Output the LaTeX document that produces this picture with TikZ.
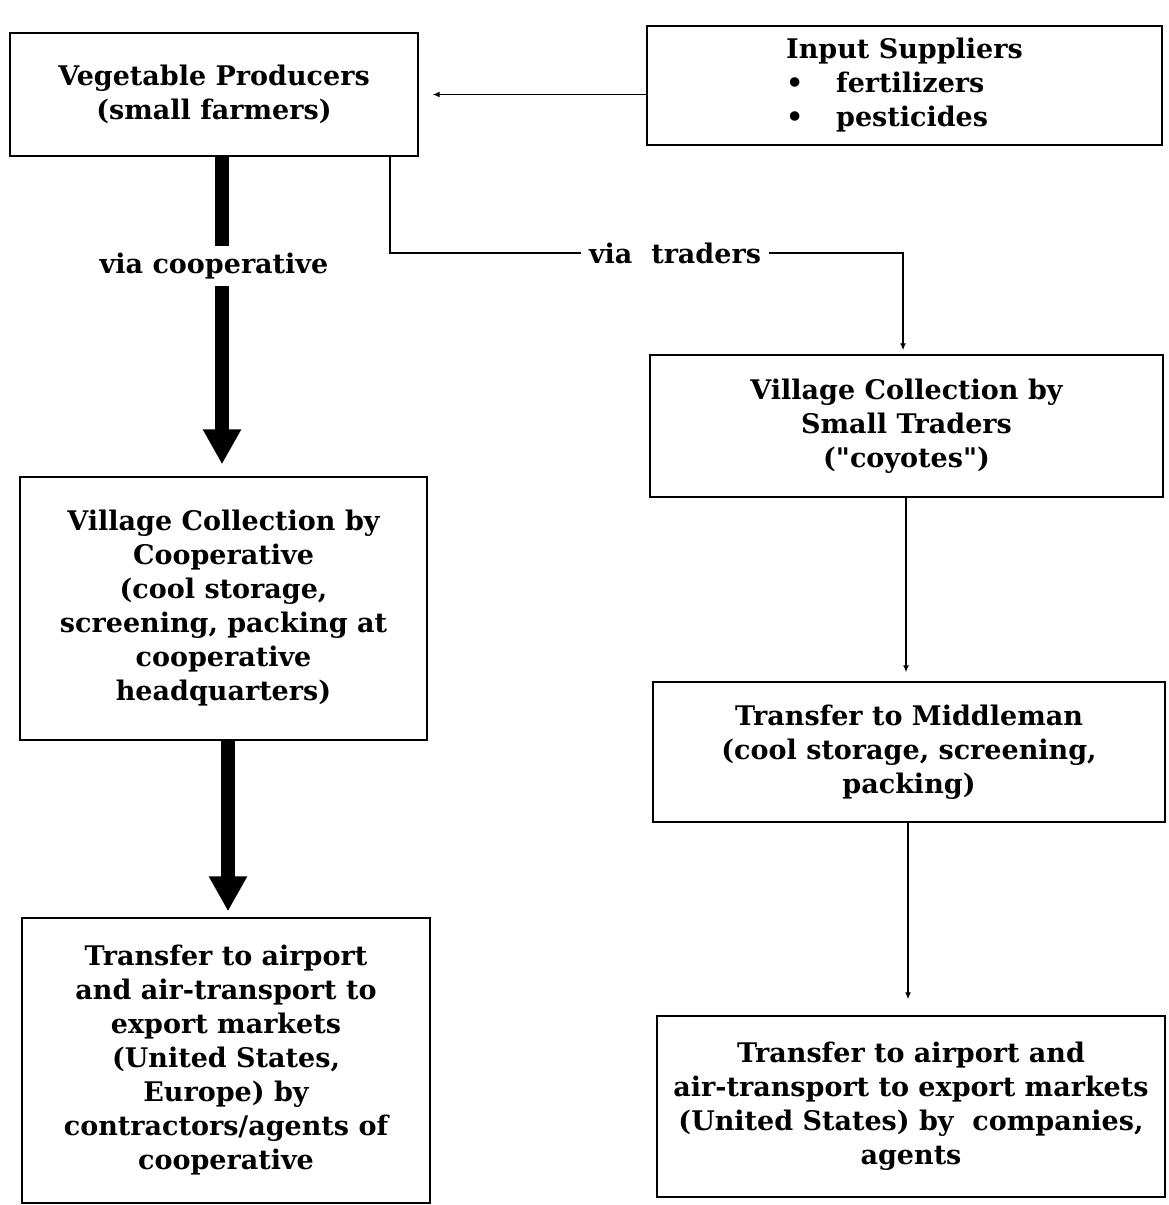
\documentclass[tikz,border=0pt]{standalone}
\usepackage{fontspec}
\setmainfont{DejaVu Serif}
\newfontfamily\qfont{DejaVu Serif}
\usetikzlibrary{arrows.meta}
\newcommand\boxfont{\fontsize{27}{34}\selectfont\bfseries}
\newcommand\dq{{\qfont\bfseries "}}
\begin{document}
\begin{tikzpicture}[x=1pt,y=-1pt,
  box/.style={draw, line width=1.4pt, align=center, inner sep=0pt, font=\boxfont},
  lbl/.style={inner xsep=8pt, inner ysep=0pt, font=\boxfont},
  thinarrow/.style={line width=1.3pt, -{Latex[length=7pt,width=6pt]}},
  thinline/.style={line width=1.3pt},
  fatline/.style={line width=14pt},
  fatarrow/.style={line width=14pt, -{Triangle[length=35pt 0 0,width=36pt 0 0]}}]
\useasboundingbox (0,0) rectangle (1168,1205);

% boxes
\node[box, minimum width=408pt, minimum height=123pt] (vp) at (214,94.5)
  {Vegetable Producers\\(small farmers)};
\node[box, minimum width=515pt, minimum height=119pt, align=left] (is) at (904.5,85.5)
  {Input Suppliers\\\makebox[50pt][l]{•}fertilizers\\\makebox[50pt][l]{•}pesticides};
\node[box, minimum width=513pt, minimum height=142pt] (st) at (906.5,426)
  {Village Collection by\\Small Traders\\(\dq coyotes\dq)};
\node[box, minimum width=407pt, minimum height=263pt] (coop) at (223.5,608.5)
  {Village Collection by\\Cooperative\\(cool storage,\\screening, packing at\\cooperative\\headquarters)};
\node[box, minimum width=512pt, minimum height=140pt] (mm) at (909,752)
  {Transfer to Middleman\\(cool storage, screening,\\packing)};
\node[box, minimum width=408pt, minimum height=285pt] (la) at (226,1060.5)
  {Transfer to airport\\and air-transport to\\export markets\\(United States,\\Europe) by\\contractors/agents of\\cooperative};
\node[box, minimum width=508pt, minimum height=181pt] (ra) at (911,1106.5)
  {Transfer to airport and\\air-transport to export markets\\(United States) by~ companies,\\agents};

% labels
\node[lbl, minimum height=40pt] (vc) at (214,266) {via cooperative};
\node[lbl] (vt) at (675,253) {via~~traders};

% guide coordinates
\coordinate (cx1) at (222,0);
\coordinate (cx2) at (228,0);
\coordinate (tx1) at (390,0);
\coordinate (tx2) at (903,0);
\coordinate (tx3) at (906,0);
\coordinate (tx4) at (908,0);

% connectors
\draw[thinarrow, shorten >=14pt] (is.west |- vp.east) -- (vp.east);
\draw[fatline] (vp.south -| cx1) -- (vc.north -| cx1);
\draw[fatarrow, shorten >=12pt] (vc.south -| cx1) -- (coop.north -| cx1);
\draw[fatarrow, shorten >=6pt] (coop.south -| cx2) -- (la.north -| cx2);
\draw[thinline] (vp.south -| tx1) |- (vt.west);
\draw[thinarrow, shorten >=4pt] (vt.east) -| (st.north -| tx2);
\draw[thinarrow, shorten >=9pt] (st.south -| tx3) -- (mm.north -| tx3);
\draw[thinarrow, shorten >=16pt] (mm.south -| tx4) -- (ra.north -| tx4);
\end{tikzpicture}
\end{document}
